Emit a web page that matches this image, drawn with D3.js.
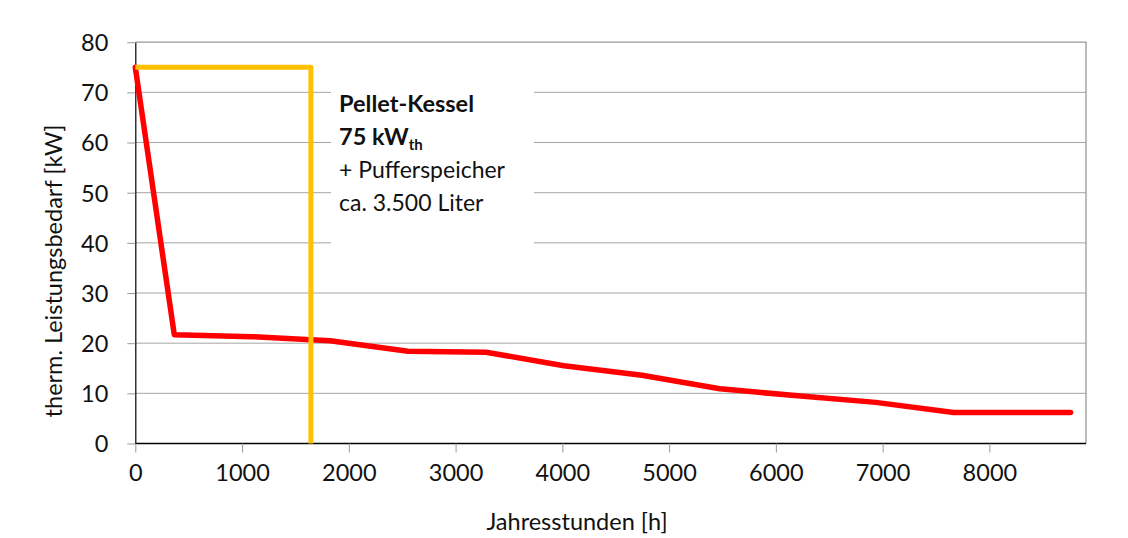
<!DOCTYPE html>
<html lang="de">
<head>
<meta charset="utf-8">
<title>Jahresdauerlinie Wärmebedarf</title>
<script src="https://cdn.jsdelivr.net/npm/d3@7"></script>
<style>
  html, body { margin: 0; padding: 0; background: #fff; }
  svg { display: block; font-family: Lato, "Open Sans", sans-serif; }
</style>
</head>
<body>
<svg id="chart" width="1128" height="538"></svg>
<script>
// Annual load duration curve: hours of the year vs. required heat output
const hours  = [0, 365, 1095, 1825, 2555, 3285, 4015, 4745, 5475, 6205, 6935, 7665, 8395, 8760];
const demand = [75, 21.7, 21.3, 20.5, 18.4, 18.2, 15.5, 13.6, 10.9, 9.5, 8.2, 6.2, 6.2, 6.2];

// Pellet boiler rated output, drawn as a step outline
const boilerHours = [0, 1645, 1645];
const boilerKW    = [75, 75, 0];

const xTicks = [0, 1000, 2000, 3000, 4000, 5000, 6000, 7000, 8000];
const yTicks = [0, 10, 20, 30, 40, 50, 60, 70, 80];

const noteLines = [
  { text: "Pellet-Kessel", bold: true },
  { text: "75 kW", sub: "th", bold: true },
  { text: "+ Pufferspeicher", bold: false },
  { text: "ca. 3.500 Liter", bold: false }
];

const svg = d3.select("#chart");
const plot = { left: 135.3, top: 42.2, right: 1086, bottom: 443.5 };

const x = d3.scaleLinear().domain([0, 8905]).range([plot.left, plot.right]);
const y = d3.scaleLinear().domain([0, 80]).range([plot.bottom, plot.top]);

// horizontal gridlines
svg.append("g")
  .selectAll("line")
  .data(yTicks.filter(d => d > 0 && d < 80))
  .join("line")
  .attr("x1", plot.left).attr("x2", plot.right)
  .attr("y1", d => y(d)).attr("y2", d => y(d))
  .attr("stroke", "#a6a6a6").attr("stroke-width", 1);

// top and right frame
svg.append("path")
  .attr("d", `M${plot.left},${plot.top}H${plot.right}V${plot.bottom}`)
  .attr("fill", "none").attr("stroke", "#999").attr("stroke-width", 1.3);

// y axis
const yAxis = svg.append("g")
  .attr("transform", `translate(${plot.left},0)`)
  .call(d3.axisLeft(y).tickValues(yTicks).tickSize(8).tickPadding(19).tickSizeOuter(0));
yAxis.select(".domain").attr("stroke", "#000").attr("stroke-width", 1.2);
yAxis.selectAll(".tick line").attr("stroke", "#999");
yAxis.selectAll(".tick text")
  .attr("font-size", 23.5).attr("fill", "#111").attr("font-family", "Lato, sans-serif")
  .attr("dy", "0.36em");

// x axis
const xAxis = svg.append("g")
  .attr("transform", `translate(0,${plot.bottom})`)
  .call(d3.axisBottom(x).tickValues(xTicks).tickFormat(d3.format("d"))
    .tickSize(9).tickPadding(12).tickSizeOuter(0));
xAxis.select(".domain").attr("stroke", "#000").attr("stroke-width", 1.6)
  .attr("d", `M${plot.left},0H${plot.right}`);
xAxis.selectAll(".tick line").attr("stroke", "#999");
xAxis.selectAll(".tick text")
  .attr("font-size", 23.5).attr("fill", "#111").attr("font-family", "Lato, sans-serif");

// axis titles
svg.append("text")
  .attr("x", 577).attr("y", 530)
  .attr("text-anchor", "middle")
  .attr("font-size", 23.5).attr("fill", "#111")
  .text("Jahresstunden [h]");

svg.append("text")
  .attr("transform", "translate(62,271) rotate(-90)")
  .attr("text-anchor", "middle")
  .attr("font-size", 23.5).attr("fill", "#111")
  .text("therm. Leistungsbedarf [kW]");

// white backing behind the boiler note
svg.append("rect")
  .attr("x", 331).attr("y", 72).attr("width", 203).attr("height", 178)
  .attr("fill", "#fff");

// load duration curve
const demandLine = d3.line().x(d => x(d[0])).y(d => y(d[1]));
svg.append("path")
  .datum(d3.zip(hours, demand))
  .attr("d", demandLine)
  .attr("fill", "none").attr("stroke", "#ff0000")
  .attr("stroke-width", 5.5)
  .attr("stroke-linejoin", "round").attr("stroke-linecap", "round");

// boiler output outline
svg.append("path")
  .datum(d3.zip(boilerHours, boilerKW))
  .attr("d", demandLine)
  .attr("fill", "none").attr("stroke", "#ffc000")
  .attr("stroke-width", 5)
  .attr("stroke-linejoin", "round").attr("stroke-linecap", "butt");

// note text
const note = svg.append("g").attr("font-family", "Lato, sans-serif").attr("fill", "#111");
const baselines = [111.5, 145, 178, 211];
noteLines.forEach((ln, i) => {
  const t = note.append("text")
    .attr("x", 339).attr("y", baselines[i])
    .attr("font-size", ln.bold ? 23.5 : 23)
    .attr("font-weight", ln.bold ? 700 : 400)
    .text(ln.text);
  if (ln.sub) {
    t.append("tspan")
      .attr("font-size", 15).attr("dy", 5)
      .text(ln.sub);
  }
});
</script>
</body>
</html>
